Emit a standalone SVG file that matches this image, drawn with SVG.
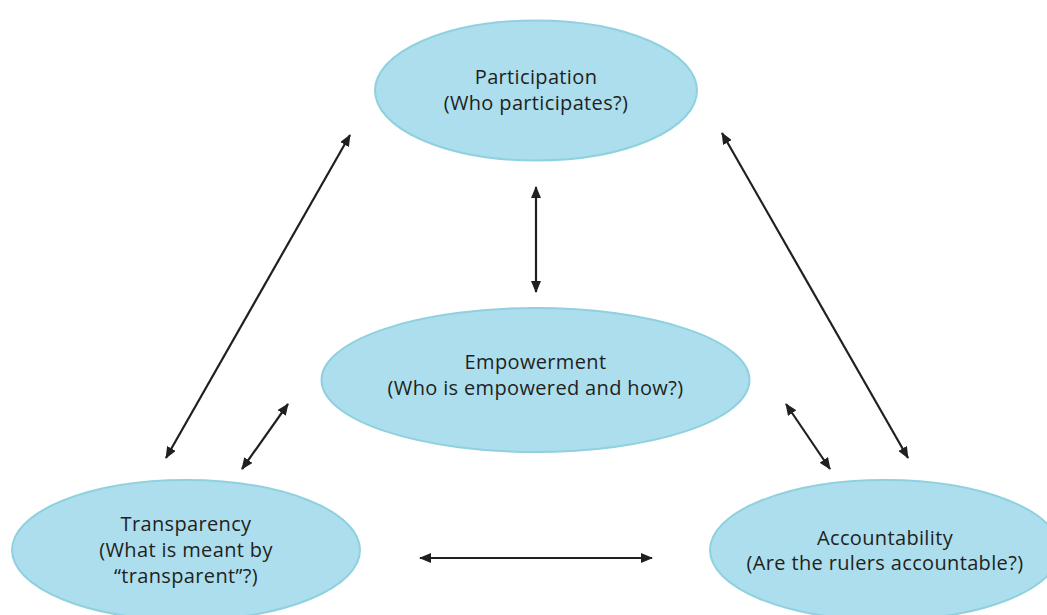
<svg xmlns="http://www.w3.org/2000/svg" width="1047" height="615" viewBox="0 0 1047 615">
<style>
.node{fill:#acdeee;stroke:#8fd1df;stroke-width:2}
.lbl{font-family:"Open Sans","Noto Sans",sans-serif;font-size:20px;letter-spacing:0.35px;fill:#231f20;text-anchor:middle}
.conn{stroke:#231f20;stroke-width:2.2;fill:none;marker-start:url(#ah);marker-end:url(#ah)}
</style>
<defs>
<marker id="ah" viewBox="0 0 12 10" refX="11" refY="5" markerWidth="12" markerHeight="10" markerUnits="userSpaceOnUse" orient="auto-start-reverse">
<path d="M0,0 L12,5 L0,10 Z" fill="#231f20"/>
</marker>
</defs>
<rect width="1047" height="615" fill="#ffffff"/>
<g id="participation">
<ellipse class="node" cx="536" cy="90.5" rx="161" ry="70"/>
<text class="lbl" x="536" y="84">Participation</text>
<text class="lbl" x="536" y="110">(Who participates?)</text>
</g>
<g id="empowerment">
<ellipse class="node" cx="535.5" cy="380" rx="214" ry="72"/>
<text class="lbl" x="535.5" y="369">Empowerment</text>
<text class="lbl" x="535.5" y="395">(Who is empowered and how?)</text>
</g>
<g id="transparency">
<ellipse class="node" cx="186" cy="550" rx="174" ry="70"/>
<text class="lbl" x="186" y="531">Transparency</text>
<text class="lbl" x="186" y="557">(What is meant by</text>
<text class="lbl" x="186" y="583">“transparent”?)</text>
</g>
<g id="accountability">
<ellipse class="node" cx="885" cy="550" rx="175" ry="70"/>
<text class="lbl" x="885" y="545">Accountability</text>
<text class="lbl" x="885" y="570">(Are the rulers accountable?)</text>
</g>
<g id="connectors">
<line class="conn" x1="350" y1="135" x2="166" y2="458"/>
<line class="conn" x1="536" y1="187" x2="536" y2="292"/>
<line class="conn" x1="722" y1="133" x2="908" y2="458"/>
<line class="conn" x1="288" y1="404" x2="242" y2="469"/>
<line class="conn" x1="786" y1="404" x2="830" y2="469"/>
<line class="conn" x1="420" y1="558" x2="652" y2="558"/>
</g>
</svg>
